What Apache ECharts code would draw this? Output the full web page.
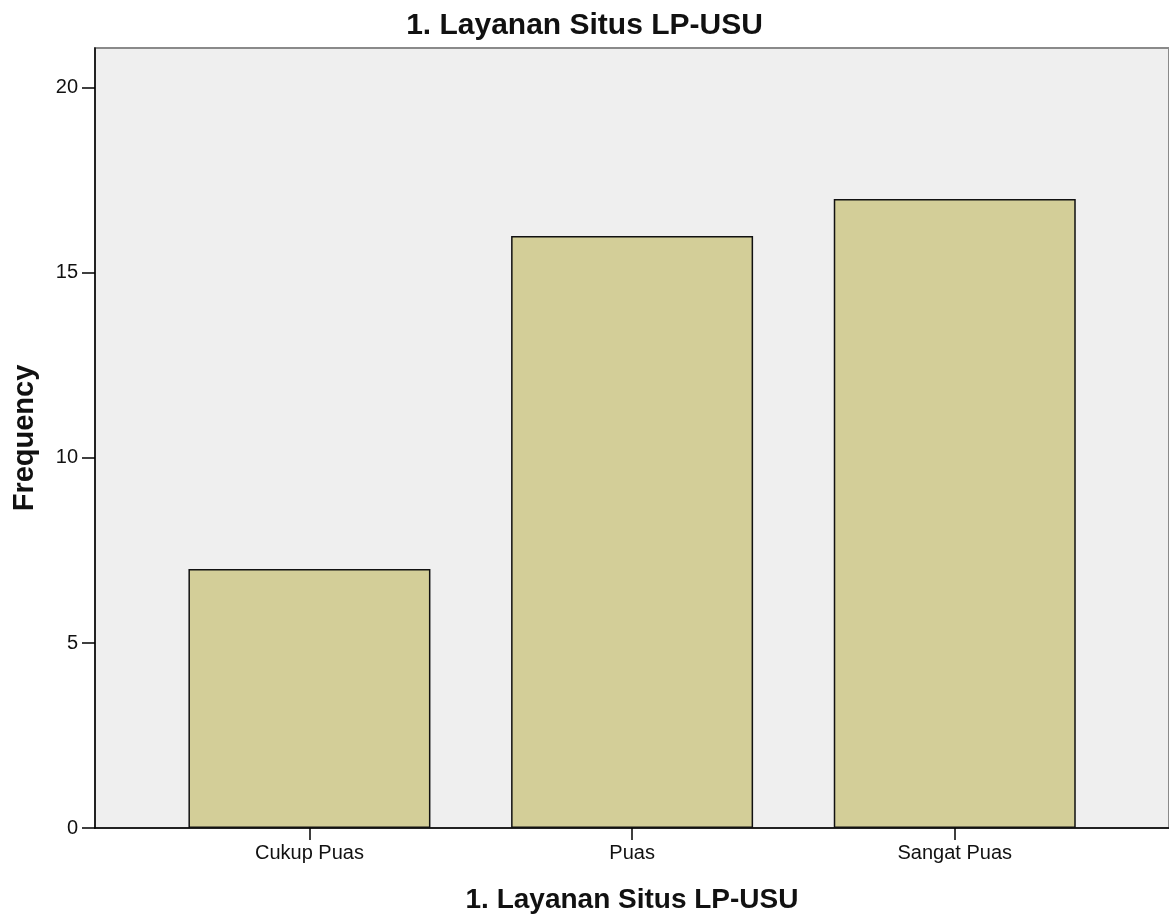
<!DOCTYPE html>
<html>
<head>
<meta charset="utf-8">
<script src="https://cdn.jsdelivr.net/npm/echarts@6/dist/echarts.min.js"></script>
<style>html,body{margin:0;padding:0;background:#fff}#c{width:1169px;height:919px}</style>
</head>
<body>
<div id="c"></div>
<script>
const categories = ['Cukup Puas', 'Puas', 'Sangat Puas'];
const frequencies = [7, 16, 17];
const yTicks = [0, 5, 10, 15, 20];
const chartTitle = '1. Layanan Situs LP-USU';
const xName = '1. Layanan Situs LP-USU';
const yName = 'Frequency';

const positions = categories.map((c, i) => i + 1);
const barData = categories.map((c, i) => [positions[i], frequencies[i]]);
const font = 'Liberation Sans, Arial, sans-serif';

const chart = echarts.init(document.getElementById('c'));
chart.setOption({
  animation: false,
  title: {
    text: chartTitle, left: 'center', top: 6,
    textStyle: { fontFamily: font, fontSize: 30, fontWeight: 'bold', color: '#111' }
  },
  grid: {
    left: 95, right: -6, top: 48, bottom: 89,
    show: true, backgroundColor: '#efefef', borderColor: '#8a8a8a', borderWidth: 2
  },
  xAxis: {
    type: 'value', min: 0.3354, max: 3.664,
    name: xName, nameLocation: 'middle', nameGap: 58,
    nameTextStyle: { fontFamily: font, fontSize: 28, fontWeight: 'bold', color: '#111' },
    axisLine: { show: true, lineStyle: { color: '#000', width: 1.5 } },
    axisTick: { show: true, length: 12, customValues: positions, lineStyle: { color: '#000', width: 1.5 } },
    axisLabel: {
      customValues: positions, margin: 15,
      formatter: v => categories[Math.round(v) - 1] || '',
      fontFamily: font, fontSize: 20, color: '#111'
    },
    splitLine: { show: false }
  },
  yAxis: {
    type: 'value', min: 0, max: 21.08,
    name: yName, nameLocation: 'middle', nameGap: 56, nameRotate: 90,
    nameTextStyle: { fontFamily: font, fontSize: 29, fontWeight: 'bold', color: '#111' },
    axisLine: { show: true, lineStyle: { color: '#000', width: 1.5 } },
    axisTick: { show: true, length: 13, customValues: yTicks, lineStyle: { color: '#000', width: 1.5 } },
    axisLabel: { customValues: yTicks, margin: 17, fontFamily: font, fontSize: 20, color: '#111' },
    splitLine: { show: false }
  },
  series: [{
    type: 'bar', data: barData, barWidth: 242,
    itemStyle: { color: '#d3ce98', borderColor: '#111', borderWidth: 1.5 }
  }]
});
</script>
</body>
</html>
